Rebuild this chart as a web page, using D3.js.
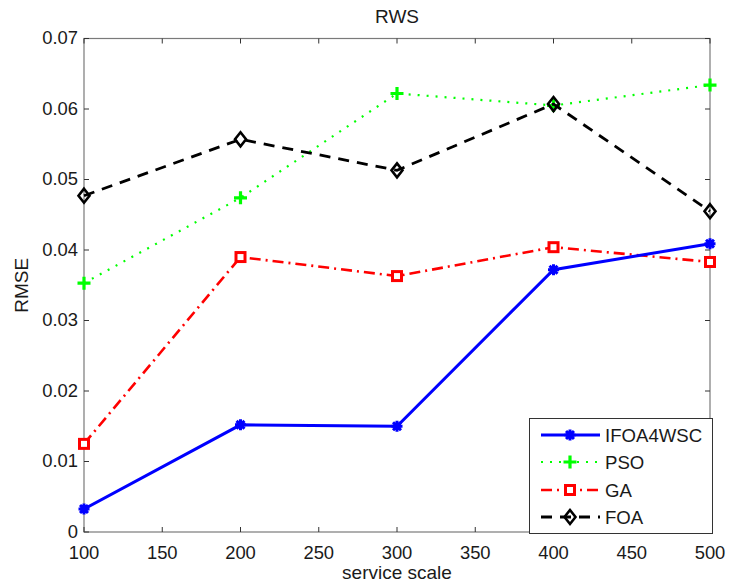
<!DOCTYPE html>
<html><head><meta charset="utf-8">
<script src="https://cdn.jsdelivr.net/npm/d3@7"></script>
<style>body{margin:0;background:#fff}svg{display:block;font-family:"Liberation Sans",Arial,sans-serif}</style>
</head><body><svg id="c" width="729" height="585"></svg>
<script>
const scales = [100, 200, 300, 400, 500];
const ifoa4wsc = [0.00326, 0.0152, 0.0150, 0.0372, 0.0409];
const pso = [0.0353, 0.0474, 0.0622, 0.0605, 0.0634];
const ga = [0.0125, 0.0390, 0.0363, 0.0404, 0.0383];
const foa = [0.0477, 0.0557, 0.0513, 0.0607, 0.0455];
const xTicks = [100, 150, 200, 250, 300, 350, 400, 450, 500];
const yTicks = [0, 0.01, 0.02, 0.03, 0.04, 0.05, 0.06, 0.07];
const seriesNames = ["IFOA4WSC", "PSO", "GA", "FOA"];

const series = [
  {name: seriesNames[0], values: ifoa4wsc, color: "#0000ff", dash: null, width: 3, marker: "asterisk"},
  {name: seriesNames[1], values: pso, color: "#00ff00", dash: "2,7", width: 2.2, marker: "plus"},
  {name: seriesNames[2], values: ga, color: "#ff0000", dash: "11,5,2,5", width: 2.6, marker: "square"},
  {name: seriesNames[3], values: foa, color: "#000000", dash: "11,8", width: 2.8, marker: "diamond"}
];

const svg = d3.select("#c");
const L = 84, R = 710, T = 38.5, B = 532;
const x = d3.scaleLinear().domain([100, 500]).range([L, R]);
const y = d3.scaleLinear().domain([0, 0.07]).range([B, T]);

svg.append("rect").attr("x", L).attr("y", T).attr("width", R - L).attr("height", B - T)
  .attr("fill", "none").attr("stroke", "#7a7a7a").attr("stroke-width", 1.2);

const tickColor = "#333";
const tl = 5;
xTicks.forEach(v => {
  const px = x(v);
  svg.append("line").attr("x1", px).attr("x2", px).attr("y1", B).attr("y2", B - tl).attr("stroke", tickColor);
  svg.append("line").attr("x1", px).attr("x2", px).attr("y1", T).attr("y2", T + tl).attr("stroke", tickColor);
  svg.append("text").attr("x", px).attr("y", 558.5).attr("text-anchor", "middle")
    .attr("font-size", 18.4).attr("fill", "#1a1a1a").text(v);
});
yTicks.forEach(v => {
  const py = y(v);
  svg.append("line").attr("x1", L).attr("x2", L + tl).attr("y1", py).attr("y2", py).attr("stroke", tickColor);
  svg.append("line").attr("x1", R).attr("x2", R - tl).attr("y1", py).attr("y2", py).attr("stroke", tickColor);
  svg.append("text").attr("x", 78).attr("y", py + 5.5).attr("text-anchor", "end")
    .attr("font-size", 18.4).attr("fill", "#1a1a1a").text(v === 0 ? "0" : d3.format(".2f")(v));
});

svg.append("text").attr("x", (L + R) / 2).attr("y", 23).attr("text-anchor", "middle")
  .attr("font-size", 19).attr("fill", "#1a1a1a").text("RWS");
svg.append("text").attr("x", (L + R) / 2).attr("y", 578.5).attr("text-anchor", "middle")
  .attr("font-size", 19).attr("fill", "#1a1a1a").text("service scale");
svg.append("text").attr("transform", `translate(28,${(T + B) / 2}) rotate(-90)`).attr("text-anchor", "middle")
  .attr("font-size", 19).attr("fill", "#1a1a1a").text("RMSE");

function drawMarker(g, type, cx, cy, color) {
  if (type === "asterisk") {
    const r = 5.5, d = r * 0.72;
    const p = `M${cx - r},${cy}L${cx + r},${cy}M${cx},${cy - r}L${cx},${cy + r}M${cx - d},${cy - d}L${cx + d},${cy + d}M${cx - d},${cy + d}L${cx + d},${cy - d}`;
    g.append("path").attr("d", p).attr("stroke", color).attr("stroke-width", 3).attr("fill", "none");
    g.append("circle").attr("cx", cx).attr("cy", cy).attr("r", 3.5).attr("fill", color);
  } else if (type === "plus") {
    const r = 6.5;
    g.append("path").attr("d", `M${cx - r},${cy}L${cx + r},${cy}M${cx},${cy - r}L${cx},${cy + r}`)
      .attr("stroke", color).attr("stroke-width", 3.2).attr("fill", "none");
  } else if (type === "square") {
    const r = 4.5;
    g.append("rect").attr("x", cx - r).attr("y", cy - r).attr("width", 2 * r).attr("height", 2 * r)
      .attr("stroke", color).attr("stroke-width", 3).attr("fill", "#fff");
  } else if (type === "diamond") {
    const rx = 5.5, ry = 7;
    g.append("path").attr("d", `M${cx},${cy - ry}L${cx + rx},${cy}L${cx},${cy + ry}L${cx - rx},${cy}Z`)
      .attr("stroke", color).attr("stroke-width", 2.6).attr("fill", "none");
  }
}

const line = d3.line().x((d, i) => x(scales[i])).y(d => y(d));
const order = [2, 1, 3, 0];
order.forEach(k => {
  const s = series[k];
  const g = svg.append("g");
  g.append("path").attr("d", line(s.values)).attr("fill", "none").attr("stroke", s.color)
    .attr("stroke-width", s.width).attr("stroke-dasharray", s.dash);
  s.values.forEach((v, i) => drawMarker(g, s.marker, x(scales[i]), y(v), s.color));
});

const lg = svg.append("g");
lg.append("rect").attr("x", 529.5).attr("y", 418.5).attr("width", 183).attr("height", 115)
  .attr("fill", "#fff").attr("stroke", "#333").attr("stroke-width", 1);
const rowsY = [435, 462, 490, 517];
series.forEach((s, i) => {
  const yy = rowsY[i];
  lg.append("line").attr("x1", 541).attr("x2", 600).attr("y1", yy).attr("y2", yy)
    .attr("stroke", s.color).attr("stroke-width", s.width).attr("stroke-dasharray", s.dash);
  drawMarker(lg, s.marker, 570, yy, s.color);
  lg.append("text").attr("x", 605).attr("y", yy + 6.5).attr("font-size", 18.6).attr("fill", "#1a1a1a").text(s.name);
});
</script></body></html>
